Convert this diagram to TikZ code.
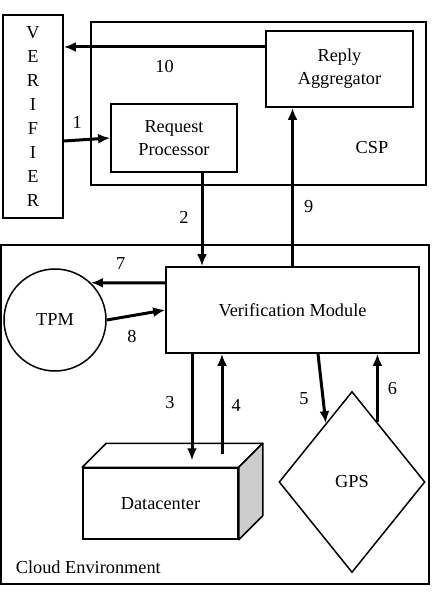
\documentclass[tikz,border=0pt]{standalone}
\usepackage{fontspec}
\setmainfont{Liberation Serif}
\usetikzlibrary{arrows.meta, shapes.geometric, positioning, calc}

\begin{document}
\begin{tikzpicture}[x=1pt,y=-1pt,font=\fontsize{18.3}{23}\selectfont,>={Latex[length=12pt,width=10pt]},line width=1.8pt]

	\tikzset{node box/.style={draw, rectangle, align=center, inner sep=0pt}}
	\tikzset{node thin/.style={draw, line width=1.5pt, inner sep=0pt}}
	\tikzset{node flow/.style={->, line width=3pt}}
	\tikzset{node num/.style={inner sep=2pt}}

	\useasboundingbox (0,0) rectangle (433,593);

	% regions
	\node[node box, minimum width=428pt, minimum height=339pt] (cloud) at (215,414.5) {};
	\node[node box, minimum width=335pt, minimum height=163pt] (csp) at (258.5,103.5) {};
	\node[inner sep=0pt, anchor=west] (cloudlbl) at (15,567) {Cloud Environment};
	\node (csplbl) at (372,148) {CSP};

	% parts
	\node[node box, minimum width=60pt, minimum height=203pt,
		font=\fontsize{18.3}{24.1}\selectfont] (verifier) at (33,116.5) {V\\E\\R\\I\\F\\I\\E\\R};
	\node[node box, minimum width=147pt, minimum height=76pt] (reply) at (339.5,69) {Reply\\Aggregator};
	\node[node box, minimum width=126pt, minimum height=68pt] (request) at (174,138) {Request\\Processor};
	\node[node box, minimum width=253pt, minimum height=86pt] (vm) at (292.5,310) {Verification Module};
	\node[node thin, circle, minimum size=102pt] (tpm) at (55,320) {TPM};
	\node[node thin, diamond, aspect=0.8, minimum width=146pt, minimum height=181pt] (gps) at (352,482) {GPS};

	% datacenter block
	\node[node thin, rectangle, minimum width=155pt, minimum height=71pt] (dc) at (160.5,503.5) {Datacenter};
	\draw[line width=1.5pt, line join=round] (dc.north west) -- ($(dc.north west)+(24,-24)$)
		-- ($(dc.north east)+(24,-24)$) -- (dc.north east) -- cycle;
	\draw[line width=1.5pt, line join=round, fill=black!20] (dc.north east) -- ($(dc.north east)+(24,-24)$)
		-- ($(dc.south east)+(24,-24)$) -- (dc.south east) -- cycle;

	% message flow
	\coordinate (rqout) at ($(request.south)+(28,0)$);
	\draw[node flow] ([yshift=22pt]reply.west) -- ([yshift=22pt]reply.west -| verifier.east)
		node[node num, pos=0.5, below=10pt] {10};
	\draw[node flow] ([yshift=-24.5pt]verifier.east) -- (request.west)
		node[node num, pos=0.29, above=8pt] {1};
	\draw[node flow] (rqout) -- (rqout |- vm.north)
		node[node num, pos=0.48, left=10pt] {2};
	\draw[node flow] (vm.north) -- (vm.north |- reply.south)
		node[node num, pos=0.375, right=8pt] {9};
	\draw[node flow] ([yshift=27pt]vm.west) -- (tpm.46.5)
		node[node num, pos=0.6, above=10pt] {7};
	\draw[node flow] (tpm.east) -- (vm.west)
		node[node num, pos=0.43, below=11pt] {8};
	\draw[node flow] ($(vm.south)+(-100.5,0)$) -- ($(vm.south |- dc.north)+(-100.5,-7)$)
		node[node num, pos=0.46, left=14pt] {3};
	\draw[node flow] ($(vm.south |- dc.north)+(-70.5,-13)$) -- ($(vm.south)+(-70.5,0)$)
		node[node num, pos=0.49, right=6pt] {4};
	\draw[node flow] ($(vm.south)+(25.5,0)$) -- (gps.114)
		node[node num, pos=0.64, left=11pt] {5};
	\draw[node flow] (gps.67) -- (gps.67 |- vm.south)
		node[node num, pos=0.5, right=7pt] {6};
\end{tikzpicture}
\end{document}
